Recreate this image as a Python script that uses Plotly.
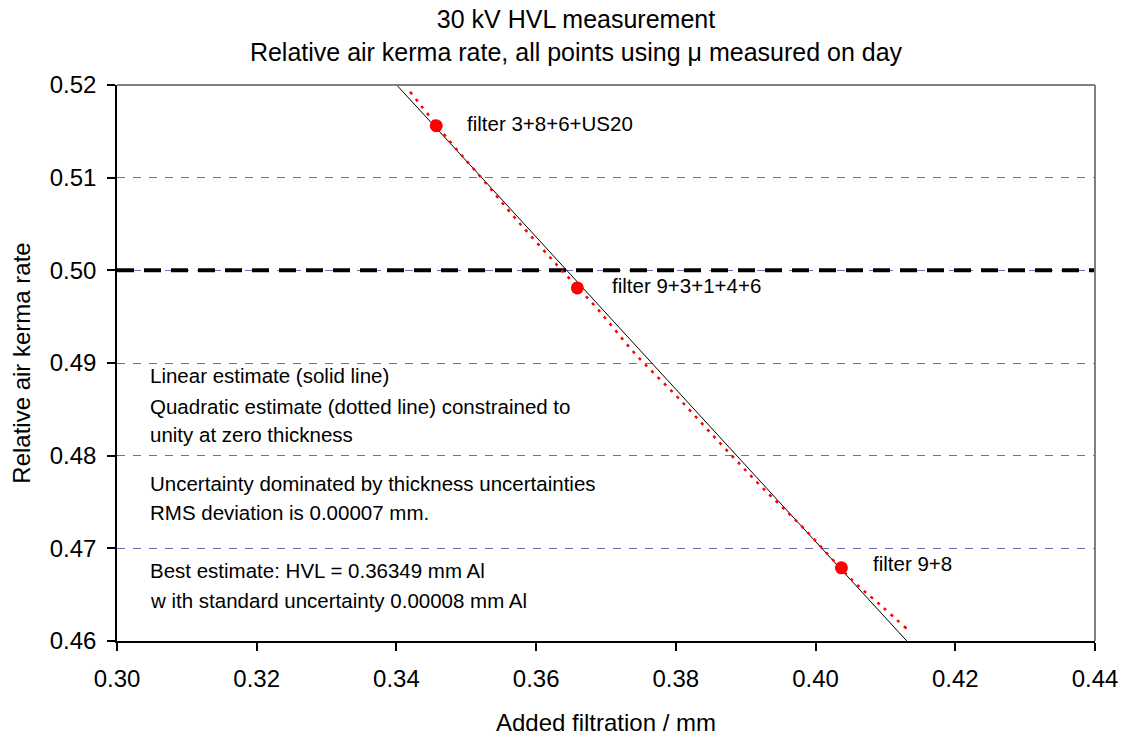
import plotly.graph_objects as go

# Measured points
filt_x = [0.3457, 0.3659, 0.4037]
kerma_y = [0.5156, 0.4981, 0.4679]
point_labels = ["filter 3+8+6+US20", "filter 9+3+1+4+6", "filter 9+8"]

# Linear estimate (solid line), endpoints read at plot edges
lin_x = [0.34004, 0.41306]
lin_y = [0.52, 0.46]

# Quadratic estimate (dotted line)
quad_x = [0.34195, 0.34767, 0.35221, 0.35722, 0.36318, 0.36868, 0.37430,
          0.38022, 0.38623, 0.39206, 0.39825, 0.40541, 0.40948, 0.41306]
quad_y = [0.51928, 0.51389, 0.50994, 0.50544, 0.50041, 0.49592, 0.49089,
          0.48633, 0.48143, 0.47680, 0.47220, 0.46645, 0.46375, 0.46131]

half_value = 0.5
x_range = [0.30, 0.44]
y_range = [0.46, 0.52]
x_ticks = [0.30, 0.32, 0.34, 0.36, 0.38, 0.40, 0.42, 0.44]
y_ticks = [0.46, 0.47, 0.48, 0.49, 0.50, 0.51, 0.52]

notes = [
    ("Linear estimate (solid line)", 0.48863),
    ("Quadratic estimate (dotted line) constrained to", 0.48528),
    ("unity at zero thickness", 0.48226),
    ("Uncertainty dominated by thickness uncertainties", 0.47698),
    ("RMS deviation is 0.00007 mm.", 0.47385),
    ("Best estimate: HVL = 0.36349 mm Al", 0.46760),
    ("w ith standard uncertainty 0.00008 mm Al", 0.46437),
]

FONT = "Arial, Liberation Sans, sans-serif"

fig = go.Figure()

# Half-value reference line
fig.add_trace(go.Scatter(x=x_range, y=[half_value, half_value], mode="lines",
                         line=dict(color="black", width=4, dash="17px,10px"),
                         hoverinfo="skip", showlegend=False))
# Linear fit
fig.add_trace(go.Scatter(x=lin_x, y=lin_y, mode="lines",
                         line=dict(color="black", width=1),
                         showlegend=False))
# Quadratic fit
fig.add_trace(go.Scatter(x=quad_x, y=quad_y, mode="lines",
                         line=dict(color="#FF0000", width=2.5, dash="3px,6px", shape="spline", smoothing=1.0),
                         showlegend=False))
# Points
fig.add_trace(go.Scatter(x=filt_x, y=kerma_y, mode="markers",
                         marker=dict(color="#FF0000", size=13),
                         showlegend=False))

annotations = []
label_shift = [(29, 2), (33, 2), (30, 4)]
for xv, yv, lab, (dx, dy) in zip(filt_x, kerma_y, point_labels, label_shift):
    annotations.append(dict(x=xv, y=yv, xref="x", yref="y", text=lab, showarrow=False,
                            xanchor="left", yanchor="middle", xshift=dx, yshift=dy,
                            font=dict(family=FONT, size=20.5, color="black")))
for txt, yv in notes:
    annotations.append(dict(x=0.0317, y=yv, xref="paper", yref="y", text=txt, showarrow=False,
                            xanchor="left", yanchor="middle",
                            font=dict(family=FONT, size=20.5, color="black")))

shapes = [
    dict(type="line", xref="paper", yref="paper", x0=0, x1=1, y0=1, y1=1,
         line=dict(color="#808080", width=2)),
    dict(type="line", xref="paper", yref="paper", x0=1, x1=1, y0=0, y1=1,
         line=dict(color="#808080", width=2)),
]

fig.update_layout(
    width=1125, height=737,
    margin=dict(l=117, r=30, t=85, b=96, autoexpand=False),
    paper_bgcolor="white", plot_bgcolor="white",
    font=dict(family=FONT, size=24, color="black"),
    title=dict(text="30 kV HVL measurement<br>Relative air kerma rate, all points using \u03bc measured on day",
               x=0.512, xref="container", xanchor="center",
               y=1 - 28 / 737, yref="container", yanchor="middle",
               font=dict(family=FONT, size=25, color="black")),
    annotations=annotations,
    shapes=shapes,
    showlegend=False,
)

fig.update_xaxes(range=x_range, tickvals=x_ticks, tickformat=".2f",
                 showline=True, linecolor="black", linewidth=1.5,
                 ticks="outside", ticklen=8, tickcolor="black", tickwidth=1.5,
                 ticklabelstandoff=7, automargin=False,
                 showgrid=False, zeroline=False,
                 tickfont=dict(family=FONT, size=24),
                 title=dict(text="Added filtration / mm", font=dict(family=FONT, size=24), standoff=24))
fig.update_yaxes(range=y_range, tickvals=y_ticks, tickformat=".2f",
                 showline=True, linecolor="black", linewidth=1.5,
                 ticks="outside", ticklen=8, tickcolor="black", tickwidth=1.5,
                 ticklabelstandoff=6, automargin=False,
                 showgrid=True, gridcolor="#7070B8", gridwidth=1, griddash="8px,8px",
                 zeroline=False,
                 tickfont=dict(family=FONT, size=24),
                 title=dict(text="Relative air kerma rate", font=dict(family=FONT, size=24), standoff=12))

fig.write_html("out.html")
